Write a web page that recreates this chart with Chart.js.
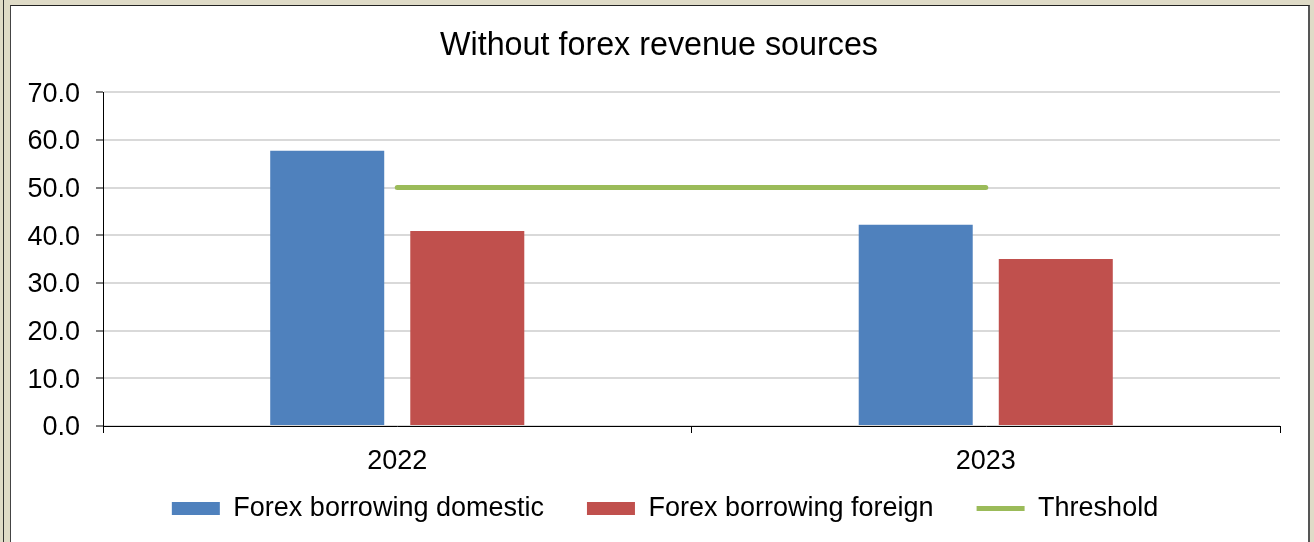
<!DOCTYPE html>
<html>
<head>
<meta charset="utf-8">
<script src="https://cdn.jsdelivr.net/npm/chart.js@4.4.0/dist/chart.umd.min.js"></script>
<style>
  html, body { margin: 0; padding: 0; }
  body { width: 1314px; height: 542px; background: #dfdbc7; position: relative; overflow: hidden; }
  .edge-line { position: absolute; left: 3px; top: 0; width: 1px; height: 542px; background: #333; }
  .panel {
    position: absolute; left: 10px; top: 5px; width: 1297px; height: 560px;
    background: #fff; border-left: 1px solid #444; border-top: 1px solid #222; border-right: 2px solid #555;
  }
  #chart { position: absolute; left: 0; top: 0; }
</style>
</head>
<body>
<div class="edge-line"></div>
<div class="panel"></div>
<canvas id="chart" width="1314" height="542"></canvas>
<script>
// 图表数据
const categories = ['2022', '2023'];
const domesticValues = [57.7, 42.2];
const foreignValues = [40.9, 35.0];
const thresholdValues = [50, 50];
const seriesNames = ['Forex borrowing domestic', 'Forex borrowing foreign', 'Threshold'];
const yTicks = { min: 0, max: 70, step: 10 };

const fontFamily = '"Liberation Sans", Arial, sans-serif';

// 布局微调：X 轴标签不被裁切，标题和图例水平位置对齐原图
const layoutTweak = {
    id: 'layoutTweak',
    afterLayout(chart) {
        chart.scales.x.bottom += 40;
        chart.legend.left += 15;
        chart.legend.right += 15;
        chart.titleBlock.left += 9;
        chart.titleBlock.right += 9;
    }
};

let ctx = document.getElementById('chart').getContext('2d');
new Chart(ctx, {
    type: 'bar',
    data: {
        labels: categories,
        datasets: [
            {
                label: seriesNames[0],
                data: domesticValues,
                backgroundColor: '#4f81bd',
                pointStyle: 'rect',
                categoryPercentage: 0.476,
                barPercentage: 0.814
            },
            {
                label: seriesNames[1],
                data: foreignValues,
                backgroundColor: '#c0504d',
                pointStyle: 'rect',
                categoryPercentage: 0.476,
                barPercentage: 0.814
            },
            {
                type: 'line',
                label: seriesNames[2],
                data: thresholdValues,
                borderColor: '#9bbb59',
                backgroundColor: '#9bbb59',
                borderWidth: 5,
                borderCapStyle: 'round',
                pointRadius: 0,
                pointStyle: 'line'
            }
        ]
    },
    plugins: [layoutTweak],
    options: {
        responsive: false,
        animation: false,
        devicePixelRatio: 1,
        layout: {
            padding: { top: 0, left: 20, right: 34, bottom: 10 }
        },
        plugins: {
            title: {
                display: true,
                text: 'Without forex revenue sources',
                color: '#000',
                font: { family: fontFamily, size: 32.3, weight: 'normal' },
                padding: { top: 27, bottom: 26.4 }
            },
            legend: {
                display: true,
                position: 'bottom',
                labels: {
                    color: '#000',
                    font: { family: fontFamily, size: 27 },
                    usePointStyle: true,
                    pointStyleWidth: 48,
                    boxHeight: 13,
                    padding: 43
                }
            },
            tooltip: { enabled: false }
        },
        scales: {
            x: {
                grid: {
                    display: true,
                    drawOnChartArea: false,
                    drawTicks: true,
                    tickLength: 7,
                    tickColor: '#000',
                    offset: true
                },
                border: { display: true, color: '#000', width: 1 },
                ticks: {
                    color: '#000',
                    font: { family: fontFamily, size: 27 },
                    padding: 12
                },
                afterFit: function(scale) {
                    scale.height = 26; // 固定 X 轴高度
                }
            },
            y: {
                min: yTicks.min,
                max: yTicks.max,
                grid: {
                    color: '#d9d9d9',
                    lineWidth: 2,
                    tickLength: 7,
                    tickColor: '#000',
                    tickWidth: 1
                },
                border: { display: true, color: '#000', width: 1 },
                ticks: {
                    stepSize: yTicks.step,
                    color: '#000',
                    font: { family: fontFamily, size: 27 },
                    padding: 16,
                    labelOffset: 2,
                    callback: function(value) {
                        return value.toFixed(1);
                    }
                },
                afterFit: function(scale) {
                    scale.width = 83; // 固定 Y 轴宽度
                }
            }
        }
    }
});
</script>
</body>
</html>
